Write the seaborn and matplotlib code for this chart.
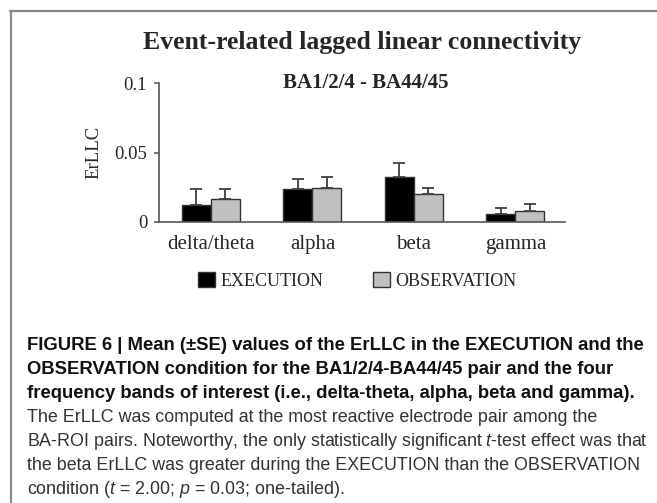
import matplotlib
matplotlib.use("Agg")
import numpy as np
import pandas as pd
import seaborn as sns
import matplotlib.pyplot as plt
from matplotlib.lines import Line2D

# Datos
bands = ["delta/theta", "alpha", "beta", "gamma"]
conditions = ["EXECUTION", "OBSERVATION"]
execution = [0.0121, 0.0235, 0.0325, 0.0055]
observation = [0.0166, 0.0247, 0.0205, 0.0077]
execution_se = [0.0119, 0.0072, 0.0096, 0.0046]
observation_se = [0.0069, 0.0074, 0.0041, 0.0050]
y_ticks = [0, 0.05, 0.1]
y_tick_labels = ["0", "0.05", "0.1"]

caption_bold = [
    "FIGURE 6 | Mean (±SE) values of the ErLLC in the EXECUTION and the",
    "OBSERVATION condition for the BA1/2/4-BA44/45 pair and the four",
    "frequency bands of interest (i.e., delta-theta, alpha, beta and gamma).",
]
caption_regular = [
    "The ErLLC was computed at the most reactive electrode pair among the",
    "BA-ROI pairs. Noteworthy, the only statistically significant $t$-test effect was that",
    "the beta ErLLC was greater during the EXECUTION than the OBSERVATION",
    "condition ($t$ = 2.00; $p$ = 0.03; one-tailed).",
]

df = pd.DataFrame({
    "band": bands * 2,
    "condition": [conditions[0]] * 4 + [conditions[1]] * 4,
    "ErLLC": execution + observation,
})
se = {conditions[0]: execution_se, conditions[1]: observation_se}

sns.set_style("white")
plt.rcParams["font.family"] = ["Liberation Serif", "DejaVu Serif"]
plt.rcParams["mathtext.fontset"] = "custom"
plt.rcParams["mathtext.it"] = "Liberation Sans:italic"
plt.rcParams["mathtext.rm"] = "Liberation Sans"

W, H = 657, 503
fig = plt.figure(figsize=(W / 100, H / 100), dpi=100)
ax = fig.add_axes([159 / W, 1 - 222 / H, (565 - 159) / W, (222 - 83) / H])

sns.barplot(data=df, x="band", y="ErLLC", hue="condition",
            palette=["#000000", "#c0c0c0"], width=0.571, gap=0,
            edgecolor="#333333", linewidth=1.0, errorbar=None, ax=ax)

# Barras de error (solo hacia arriba)
for cont, cond in zip(ax.containers, conditions):
    xs = [p.get_x() + p.get_width() / 2 for p in cont.patches]
    ys = [p.get_height() for p in cont.patches]
    ax.errorbar(xs, ys, yerr=[np.zeros(len(ys)), se[cond]], fmt="none",
                ecolor="#404040", elinewidth=1.3, capsize=4.5, capthick=1.3,
                zorder=1)

ax.set_xlim(-0.512, 3.488)
ax.set_ylim(0, 0.1)
ax.set_yticks(y_ticks, y_tick_labels)
ax.tick_params(axis="y", left=True, length=3.5, width=1.1, color="#555555",
               labelsize=13.5, pad=5)
ax.tick_params(axis="x", bottom=False, labelsize=15, pad=6)
ax.set_xlabel("")
ax.set_ylabel("ErLLC", fontsize=13.5)
ax.yaxis.set_label_coords(-0.14, 0.5)
for s in ["top", "right"]:
    ax.spines[s].set_visible(False)
for s in ["left", "bottom"]:
    ax.spines[s].set_color("#555555")
    ax.spines[s].set_linewidth(1.2)

# Leyenda
old = ax.get_legend()
handles = old.legend_handles
labels = [t.get_text() for t in old.get_texts()]
old.remove()
for h in handles:
    h.set_edgecolor("#333333")
ax.legend(handles, labels, loc="center left",
          bbox_to_anchor=(198 / W, 1 - 281 / H), bbox_transform=fig.transFigure,
          ncol=2, frameon=False, fontsize=13, handlelength=0.92,
          handleheight=0.85, handletextpad=0.3, columnspacing=2.8,
          borderpad=0, borderaxespad=0)

# Títulos
fig.text(362 / W, 1 - 42 / H, "Event-related lagged linear connectivity",
         ha="center", va="center", fontsize=18.5, fontweight="bold")
fig.text(366 / W, 1 - 83 / H, "BA1/2/4 - BA44/45",
         ha="center", va="center", fontsize=15, fontweight="bold")

# Marco
fig.add_artist(Line2D([10.5 / W, 10.5 / W], [0, 1 - 11 / H],
                      transform=fig.transFigure, color="#888888", lw=1.6))
fig.add_artist(Line2D([10 / W, 1], [1 - 11 / H, 1 - 11 / H],
                      transform=fig.transFigure, color="#888888", lw=1.6))

# Leyenda de la figura
for i, line in enumerate(caption_bold + caption_regular):
    bold = i < len(caption_bold)
    fig.text(27 / W, 1 - (345 + 24.1 * i) / H, line, ha="left", va="center",
             fontsize=13.35 if bold else 12.85, family="Liberation Sans",
             fontweight="bold" if bold else "normal",
             color="#111111" if bold else "#333333")

fig.savefig("out.png", dpi=100)
